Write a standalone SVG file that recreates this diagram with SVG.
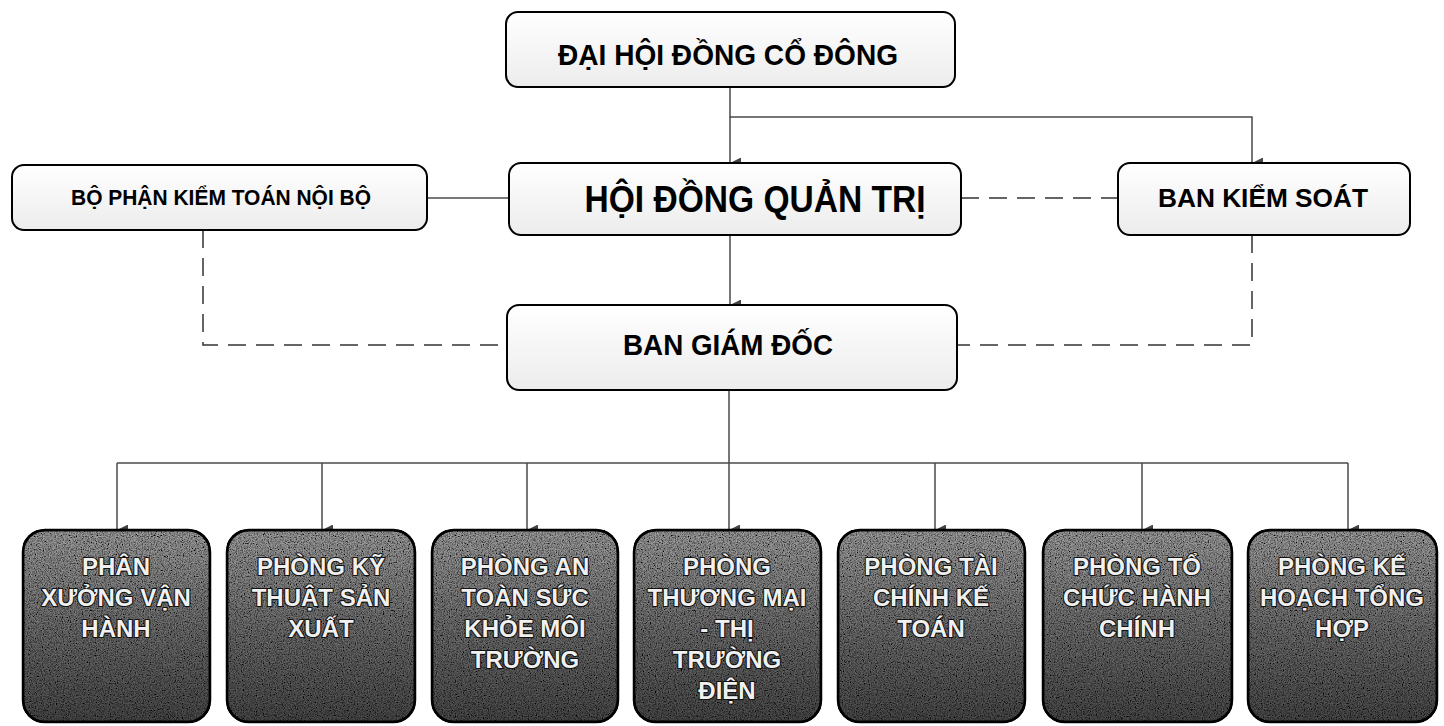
<svg xmlns="http://www.w3.org/2000/svg" width="1444" height="726" viewBox="0 0 1444 726">
<style>
.t{font-family:"Liberation Sans",Arial,sans-serif;font-weight:bold;fill:#000;text-anchor:middle}
.top{fill:url(#lg);stroke:#000;stroke-width:2}
.bot{stroke:#000;stroke-width:2.5}
.bt{font-family:"Liberation Sans",Arial,sans-serif;font-weight:bold;font-size:24px;text-anchor:middle;fill:#f0f0f0;stroke:#111;stroke-width:2.2;paint-order:stroke;stroke-linejoin:round}
.ln{fill:none;stroke:#4a4a4a;stroke-width:1.5}
.ds{fill:none;stroke:#333;stroke-width:1.5;stroke-dasharray:18 10}
</style>
<defs>
<linearGradient id="lg" x1="0" y1="0" x2="0" y2="1">
<stop offset="0" stop-color="#ffffff"/>
<stop offset="1" stop-color="#ececec"/>
</linearGradient>
<linearGradient id="dg" x1="0" y1="0" x2="0" y2="1">
<stop offset="0" stop-color="#a0a0a0"/>
<stop offset="0.5" stop-color="#707070"/>
<stop offset="1" stop-color="#4a4a4a"/>
</linearGradient>
<filter id="grain" x="0" y="0" width="100%" height="100%">
<feTurbulence type="fractalNoise" baseFrequency="0.85" numOctaves="2" seed="4" result="n"/>
<feColorMatrix in="n" type="matrix" values="0 0 0 0 0  0 0 0 0 0  0 0 0 0 0  2.2 0 0 0 -0.75" result="a"/>
<feComposite in="a" in2="SourceGraphic" operator="in" result="m"/>
<feMerge><feMergeNode in="SourceGraphic"/><feMergeNode in="m"/></feMerge>
</filter>
<marker id="ar" viewBox="0 0 12 12" refX="6" refY="12" markerWidth="11" markerHeight="11" markerUnits="userSpaceOnUse" orient="auto-start-reverse">
<path d="M0,0 L12,0 L6,12 Z" fill="#444"/>
</marker>
</defs>

<g id="connectors">
<path class="ln" d="M730,87 V117 H1252 V163" marker-end="url(#ar)"/>
<path class="ln" d="M730,117 V163" marker-end="url(#ar)"/>
<path class="ln" d="M427,198 H509"/>
<path class="ds" d="M961,198 H1118"/>
<path class="ds" d="M203,230 V345 H507"/>
<path class="ds" d="M1252,235 V345 H957"/>
<path class="ln" d="M730,235 V305" marker-end="url(#ar)"/>
<path class="ln" d="M729,390 V463"/>
<path class="ln" d="M117,463 H1348"/>
<path class="ln" d="M117,463 V530" marker-end="url(#ar)"/>
<path class="ln" d="M322,463 V530" marker-end="url(#ar)"/>
<path class="ln" d="M527,463 V530" marker-end="url(#ar)"/>
<path class="ln" d="M729,463 V530" marker-end="url(#ar)"/>
<path class="ln" d="M935,463 V530" marker-end="url(#ar)"/>
<path class="ln" d="M1142,463 V530" marker-end="url(#ar)"/>
<path class="ln" d="M1348,463 V530" marker-end="url(#ar)"/>
</g>

<g id="dhdcd">
<rect class="top" x="506" y="12" width="449" height="75" rx="12"/>
<text class="t" x="728" y="65" font-size="30" textLength="340" lengthAdjust="spacingAndGlyphs">ĐẠI HỘI ĐỒNG CỔ ĐÔNG</text>
</g>

<g id="bpktnb">
<rect class="top" x="12" y="165" width="415" height="65" rx="12"/>
<text class="t" x="221" y="205" font-size="22" textLength="300" lengthAdjust="spacingAndGlyphs">BỘ PHẬN KIỂM TOÁN NỘI BỘ</text>
</g>

<g id="hdqt">
<rect class="top" x="509" y="163" width="452" height="72" rx="12"/>
<text class="t" x="755" y="212" font-size="36" textLength="341" lengthAdjust="spacingAndGlyphs">HỘI ĐỒNG QUẢN TRỊ</text>
</g>

<g id="bks">
<rect class="top" x="1118" y="163" width="292" height="72" rx="12"/>
<text class="t" x="1263" y="207" font-size="26" textLength="210" lengthAdjust="spacingAndGlyphs">BAN KIỂM SOÁT</text>
</g>

<g id="bgd">
<rect class="top" x="507" y="305" width="450" height="85" rx="12"/>
<text class="t" x="728" y="355" font-size="29" textLength="210" lengthAdjust="spacingAndGlyphs">BAN GIÁM ĐỐC</text>
</g>

<g id="pxvh">
<rect class="bot" x="23" y="530" width="187" height="192" rx="22" fill="url(#dg)" filter="url(#grain)"/>
<rect class="bot" x="23" y="530" width="187" height="192" rx="22" fill="none"/>
<text class="bt"><tspan x="116" y="575">PHÂN</tspan><tspan x="116" y="606">XƯỞNG VẬN</tspan><tspan x="116" y="637">HÀNH</tspan></text>
</g>

<g id="pktsx">
<rect class="bot" x="227" y="530" width="188" height="192" rx="22" fill="url(#dg)" filter="url(#grain)"/>
<rect class="bot" x="227" y="530" width="188" height="192" rx="22" fill="none"/>
<text class="bt"><tspan x="321" y="575">PHÒNG KỸ</tspan><tspan x="321" y="606">THUẬT SẢN</tspan><tspan x="321" y="637">XUẤT</tspan></text>
</g>

<g id="patskmt">
<rect class="bot" x="432" y="530" width="186" height="192" rx="22" fill="url(#dg)" filter="url(#grain)"/>
<rect class="bot" x="432" y="530" width="186" height="192" rx="22" fill="none"/>
<text class="bt"><tspan x="525" y="575">PHÒNG AN</tspan><tspan x="525" y="606">TOÀN SỨC</tspan><tspan x="525" y="637">KHỎE MÔI</tspan><tspan x="525" y="668">TRƯỜNG</tspan></text>
</g>

<g id="ptmttd">
<rect class="bot" x="634" y="530" width="187" height="192" rx="22" fill="url(#dg)" filter="url(#grain)"/>
<rect class="bot" x="634" y="530" width="187" height="192" rx="22" fill="none"/>
<text class="bt"><tspan x="727" y="575">PHÒNG</tspan><tspan x="727" y="606">THƯƠNG MẠI</tspan><tspan x="727" y="637">- THỊ</tspan><tspan x="727" y="668">TRƯỜNG</tspan><tspan x="727" y="699">ĐIỆN</tspan></text>
</g>

<g id="ptckt">
<rect class="bot" x="838" y="530" width="187" height="192" rx="22" fill="url(#dg)" filter="url(#grain)"/>
<rect class="bot" x="838" y="530" width="187" height="192" rx="22" fill="none"/>
<text class="bt"><tspan x="931" y="575">PHÒNG TÀI</tspan><tspan x="931" y="606">CHÍNH KẾ</tspan><tspan x="931" y="637">TOÁN</tspan></text>
</g>

<g id="ptchc">
<rect class="bot" x="1043" y="530" width="189" height="192" rx="22" fill="url(#dg)" filter="url(#grain)"/>
<rect class="bot" x="1043" y="530" width="189" height="192" rx="22" fill="none"/>
<text class="bt"><tspan x="1137" y="575">PHÒNG TỔ</tspan><tspan x="1137" y="606">CHỨC HÀNH</tspan><tspan x="1137" y="637">CHÍNH</tspan></text>
</g>

<g id="pkhth">
<rect class="bot" x="1248" y="530" width="189" height="192" rx="22" fill="url(#dg)" filter="url(#grain)"/>
<rect class="bot" x="1248" y="530" width="189" height="192" rx="22" fill="none"/>
<text class="bt"><tspan x="1342" y="575">PHÒNG KẾ</tspan><tspan x="1342" y="606">HOẠCH TỔNG</tspan><tspan x="1342" y="637">HỢP</tspan></text>
</g>
</svg>
